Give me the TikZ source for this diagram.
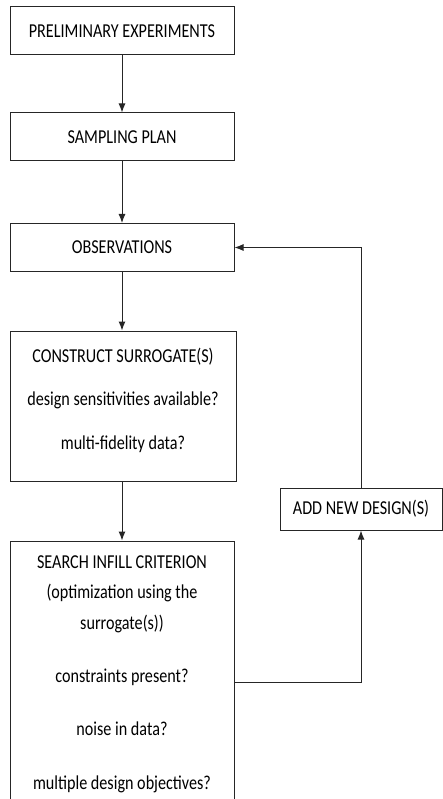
\documentclass[tikz,border=0pt]{standalone}
\usepackage{fontspec}
\setmainfont[FakeStretch=0.82]{Carlito}
\usetikzlibrary{positioning,arrows.meta,calc}
\tikzset{
    block/.style = {
        draw=black!85,
        shape=rectangle,
        minimum height=48pt,
        minimum width=224pt,
        line width=1pt,
        align=center,
        text=black,
        font=\fontsize{19.7}{30.5}\selectfont
    },
    flow/.style = {
        draw=black!85,
        line width=1pt,
        ->
    },
    >={Latex[length=9pt,width=7pt]},
}
\begin{document}
\begin{tikzpicture}[x=1pt,y=-1pt]
                \useasboundingbox (0,0) rectangle (443,799);

                \node[block] (prelim) at (122,31) {PRELIMINARY EXPERIMENTS};
                \node[block] (plan) at (122,137) {SAMPLING PLAN};
                \node[block] (obs) at (122,247.5) {OBSERVATIONS};
                \node[block, minimum width=226pt, minimum height=150pt] (surr) at (123,406)
                    {CONSTRUCT SURROGATE(S)\\[13pt] design sensitivities available?\\[13pt] multi-fidelity data?\\[-16pt]\mbox{}};
                \node[block, minimum height=266pt] (infill) at (122,674)
                    {SEARCH INFILL CRITERION\\ (optimization using the\\ surrogate(s))\\[22.5pt]
                     constraints present?\\[22.5pt] noise in data?\\[23.5pt] multiple design objectives?};
                \node[block, minimum width=162pt, minimum height=42pt] (add) at (361,509) {ADD NEW DESIGN(S)};

                \coordinate (back) at (361,682);

                \path[flow] (prelim) -- (plan);
                \path[flow] (plan) -- (obs);
                \path[flow] (obs) -- (obs |- surr.north);
                \path[flow] (surr.south -| infill) -- (infill);
                \path[flow] (infill.east |- back) -| (add);
                \path[flow] (add) |- (obs);
\end{tikzpicture}
\end{document}
